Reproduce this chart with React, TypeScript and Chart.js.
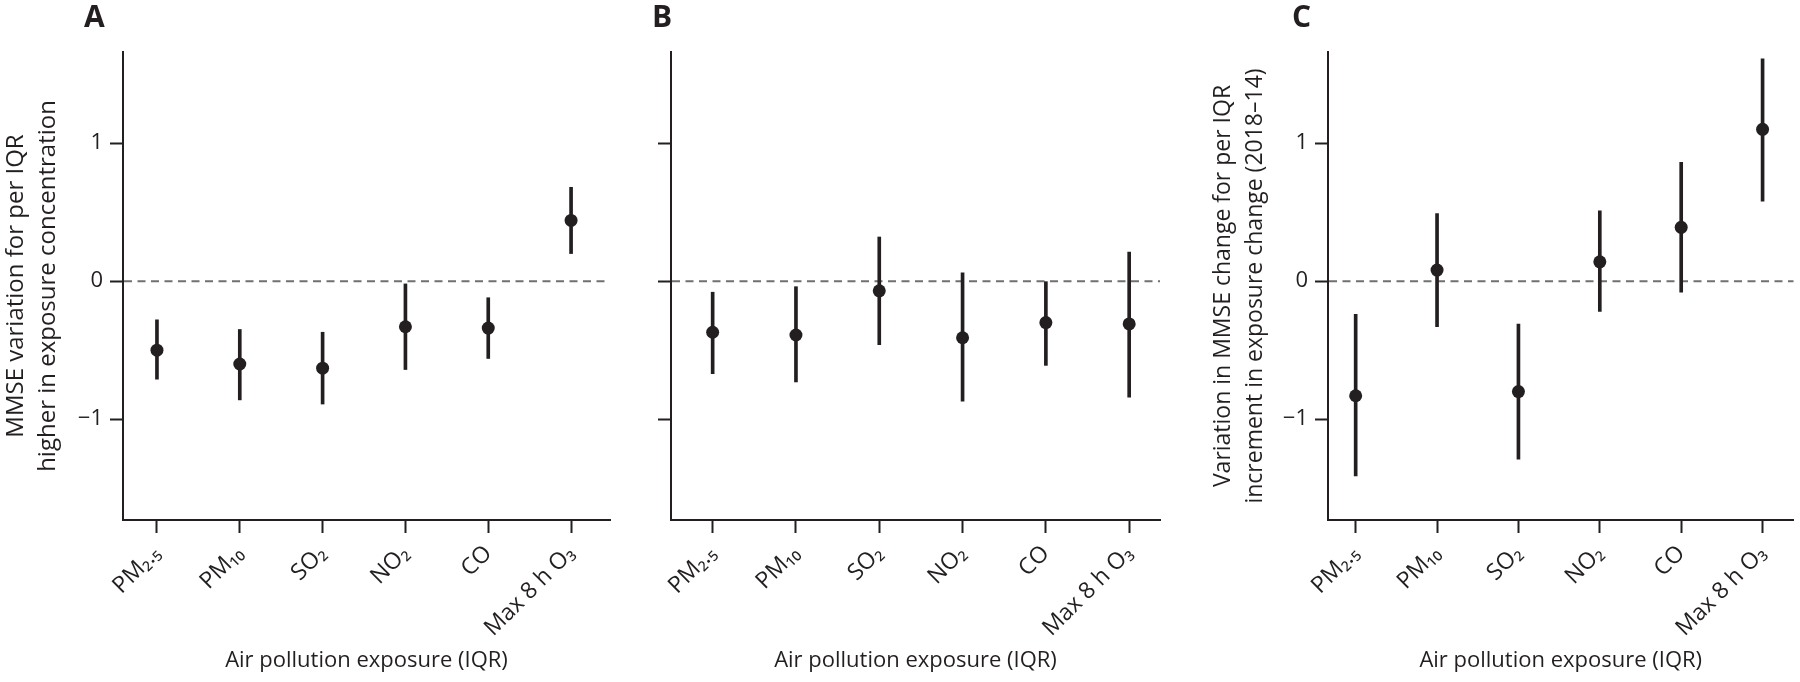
import React, { useEffect, useRef } from 'react';
import { Chart, registerables } from 'chart.js';

Chart.register(...registerables);

// ---------- data ----------
const categories = ['PM₂.₅', 'PM₁₀', 'SO₂', 'NO₂', 'CO', 'Max 8 h O₃'];
const yTickValues = [-1, 0, 1];
const xAxisTitle = 'Air pollution exposure (IQR)';
const yTitleA = ['MMSE variation for per IQR', 'higher in exposure concentration'];
const yTitleC = ['Variation in MMSE change for per IQR', 'increment in exposure change (2018–14)'];

const estimateA = [-0.5, -0.6, -0.63, -0.33, -0.34, 0.44];
const lowerA = [-0.71, -0.86, -0.89, -0.64, -0.56, 0.2];
const upperA = [-0.28, -0.35, -0.37, -0.02, -0.12, 0.68];

const estimateB = [-0.37, -0.39, -0.07, -0.41, -0.3, -0.31];
const lowerB = [-0.67, -0.73, -0.46, -0.87, -0.61, -0.84];
const upperB = [-0.08, -0.04, 0.32, 0.06, 0.0, 0.21];

const estimateC = [-0.83, 0.08, -0.8, 0.14, 0.39, 1.1];
const lowerC = [-1.41, -0.33, -1.29, -0.22, -0.08, 0.58];
const upperC = [-0.24, 0.49, -0.31, 0.51, 0.86, 1.61];

// ---------- styling ----------
const INK = '#231f20';
const DASH = '#707070';
const FONT = "'Open Sans', 'Noto Sans', sans-serif";
const Y_MIN = -1.73;
const Y_MAX = 1.66;

const zeroLinePlugin = {
  id: 'zeroLine',
  beforeDatasetsDraw(chart: any) {
    const { ctx, chartArea, scales } = chart;
    const y = scales.y.getPixelForValue(0);
    ctx.save();
    ctx.strokeStyle = DASH;
    ctx.lineWidth = 2;
    ctx.setLineDash([8, 5.5]);
    ctx.beginPath();
    ctx.moveTo(chartArea.left + 1, y);
    ctx.lineTo(chartArea.right, y);
    ctx.stroke();
    ctx.restore();
  },
};

type PanelProps = {
  estimate: number[];
  lower: number[];
  upper: number[];
  yTitle: string[] | null;
  yTitleSize: number;
  showYLabels: boolean;
  left: number;
  width: number;
  yWidth: number;
  padRight: number;
  xMin: number;
  xMax: number;
  titlePad: number;
};

function Panel(p: PanelProps) {
  const ref = useRef<HTMLCanvasElement>(null);
  useEffect(() => {
    const chart = new Chart(ref.current as HTMLCanvasElement, {
      type: 'scatter',
      data: {
        datasets: [
          {
            type: 'bar',
            data: categories.map((_, i) => ({ x: i, y: [p.lower[i], p.upper[i]] })) as any,
            backgroundColor: INK,
            borderWidth: 0,
            barThickness: 3,
            order: 2,
          } as any,
          {
            type: 'scatter',
            data: categories.map((_, i) => ({ x: i, y: p.estimate[i] })),
            backgroundColor: INK,
            borderWidth: 0,
            pointRadius: 6.5,
            order: 1,
          },
        ],
      },
      options: {
        animation: false,
        responsive: false,
        layout: { padding: { top: 52, right: p.padRight, left: 0, bottom: 0 } },
        plugins: { legend: { display: false }, tooltip: { enabled: false } },
        scales: {
          x: {
            type: 'linear',
            min: p.xMin,
            max: p.xMax,
            offset: false,
            afterBuildTicks: (s: any) => {
              s.ticks = categories.map((_, i) => ({ value: i }));
            },
            afterFit: (s: any) => {
              s.height = 162;
            },
            ticks: {
              autoSkip: false,
              minRotation: 45,
              maxRotation: 45,
              padding: 7,
              color: INK,
              font: { family: FONT, size: 23 },
              callback: (v: any) => categories[Number(v)] ?? '',
            },
            grid: {
              display: true,
              offset: false,
              drawOnChartArea: false,
              drawTicks: true,
              tickLength: 13,
              tickWidth: 2,
              tickColor: INK,
            },
            border: { display: true, color: INK, width: 2 },
            title: {
              display: true,
              text: xAxisTitle,
              color: INK,
              font: { family: FONT, size: 22 },
              padding: { top: 0, bottom: 8 },
            },
          } as any,
          y: {
            type: 'linear',
            min: Y_MIN,
            max: Y_MAX,
            afterBuildTicks: (s: any) => {
              s.ticks = yTickValues.map((v) => ({ value: v }));
            },
            afterFit: (s: any) => {
              s.width = p.yWidth;
            },
            ticks: {
              display: p.showYLabels,
              padding: 7,
              color: INK,
              font: { family: FONT, size: 22 },
              callback: (v: any) => (Number(v) < 0 ? '−' + Math.abs(Number(v)) : String(v)),
            },
            grid: {
              display: true,
              drawOnChartArea: false,
              drawTicks: true,
              tickLength: 13,
              tickWidth: 2,
              tickColor: INK,
            },
            border: { display: true, color: INK, width: 2 },
            title: {
              display: !!p.yTitle,
              text: p.yTitle || '',
              color: INK,
              font: { family: FONT, size: p.yTitleSize, lineHeight: 32 / p.yTitleSize },
              padding: { top: p.titlePad, bottom: 0 },
            },
          } as any,
        },
      },
      plugins: [zeroLinePlugin],
    });
    return () => chart.destroy();
  }, []);
  return (
    <canvas
      ref={ref}
      width={p.width}
      height={682}
      style={{ position: 'absolute', left: p.left, top: 0, width: p.width, height: 682 }}
    />
  );
}

const letterStyle = (left: number): React.CSSProperties => ({
  position: 'absolute',
  left,
  top: 1,
  fontFamily: FONT,
  fontWeight: 700,
  fontSize: 30,
  lineHeight: '30px',
  color: INK,
});

export default function App() {
  return (
    <div style={{ position: 'absolute', left: 0, top: 0, width: 1800, height: 682, background: '#fff', overflow: 'hidden' }}>
      <Panel estimate={estimateA} lower={lowerA} upper={upperA} yTitle={yTitleA} yTitleSize={24} showYLabels={true}
        left={0} width={620} yWidth={123} padRight={10} xMin={-0.41} xMax={5.47} titlePad={0} />
      <Panel estimate={estimateB} lower={lowerB} upper={upperB} yTitle={null} yTitleSize={23} showYLabels={false}
        left={620} width={550} yWidth={51} padRight={10} xMin={-0.5} xMax={5.37} titlePad={0} />
      <Panel estimate={estimateC} lower={lowerC} upper={upperC} yTitle={yTitleC} yTitleSize={23} showYLabels={true}
        left={1180} width={620} yWidth={148} padRight={5} xMin={-0.34} xMax={5.38} titlePad={27} />
      <div style={letterStyle(84)}>A</div>
      <div style={letterStyle(652)}>B</div>
      <div style={letterStyle(1292)}>C</div>
    </div>
  );
}
